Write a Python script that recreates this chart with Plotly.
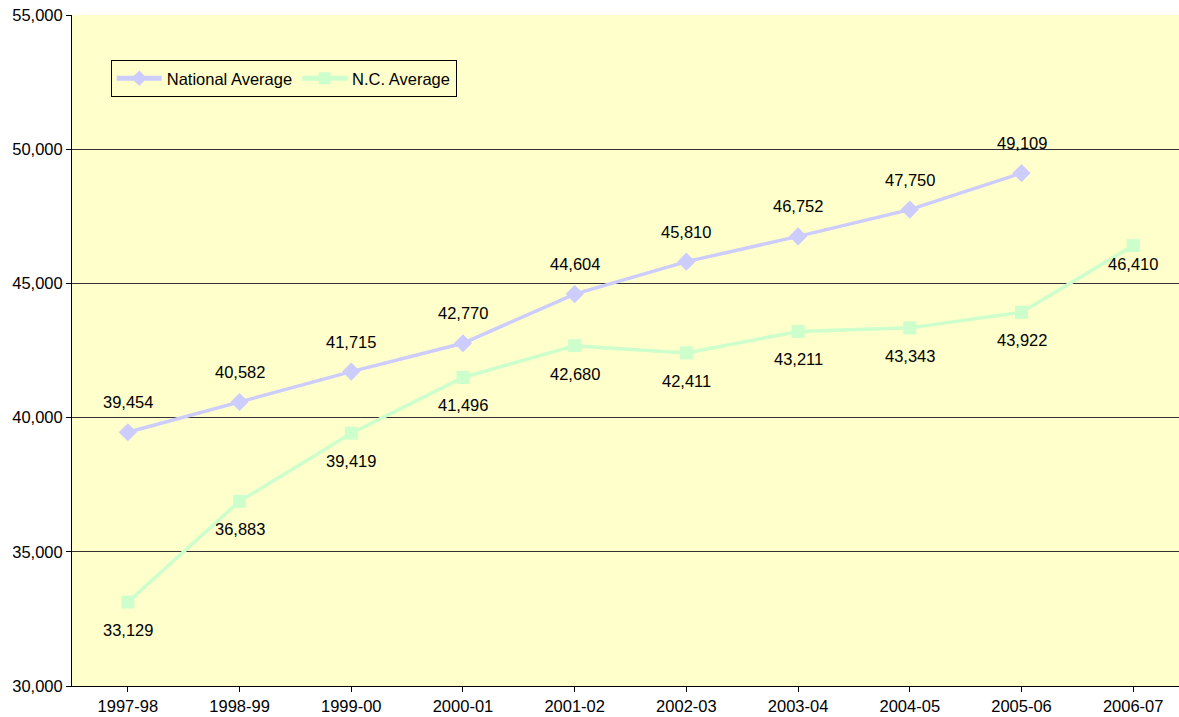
import plotly.graph_objects as go

years = ["1997-98", "1998-99", "1999-00", "2000-01", "2001-02", "2002-03",
         "2003-04", "2004-05", "2005-06", "2006-07"]
national = [39454, 40582, 41715, 42770, 44604, 45810, 46752, 47750, 49109, None]
nc = [33129, 36883, 39419, 41496, 42680, 42411, 43211, 43343, 43922, 46410]
y_ticks = [30000, 35000, 40000, 45000, 50000, 55000]

BG = "#FFFFCC"
FONT = "Liberation Sans, Arial, sans-serif"
FS = 16.5

fig = go.Figure()
fig.add_trace(go.Scatter(
    x=list(range(len(years))), y=national, name="National Average",
    mode="lines+markers",
    line=dict(color="#CCCCFF", width=3.5),
    marker=dict(symbol="diamond", size=14, color="#CCCCFF"),
))
fig.add_trace(go.Scatter(
    x=list(range(len(years))), y=nc, name="N.C. Average",
    mode="lines+markers",
    line=dict(color="#CCFFCC", width=3.5),
    marker=dict(symbol="square", size=13, color="#CCFFCC"),
))

annotations = []
for i, v in enumerate(national):
    if v is None:
        continue
    annotations.append(dict(x=i, y=v, text=f"{v:,}", showarrow=False,
                            yshift=30, font=dict(family=FONT, size=FS, color="black")))
for i, v in enumerate(nc):
    shift = -18 if i == len(nc) - 1 else -28
    annotations.append(dict(x=i, y=v, text=f"{v:,}", showarrow=False,
                            yshift=shift, font=dict(family=FONT, size=FS, color="black")))

fig.update_layout(
    width=1179, height=717,
    margin=dict(l=72, r=0, t=15, b=31),
    paper_bgcolor="white", plot_bgcolor=BG,
    font=dict(family=FONT, size=FS, color="black"),
    showlegend=True,
    legend=dict(orientation="h", x=0.035, y=0.933, xanchor="left", yanchor="top",
                bgcolor=BG, bordercolor="black", borderwidth=1,
                itemsizing="constant", itemwidth=45,
                font=dict(family=FONT, size=FS, color="black")),
    annotations=annotations,
)
fig.update_xaxes(
    range=[-0.5, 9.41], tickmode="array", tickvals=list(range(len(years))),
    ticktext=years, ticks="outside", tickson="boundaries", ticklen=5,
    tickcolor="black", showline=True, linecolor="black", linewidth=1,
    showgrid=False, zeroline=False, tickfont=dict(size=FS),
)
fig.update_yaxes(
    range=[30000, 55000], tickvals=y_ticks, tickformat=",",
    ticks="outside", ticklen=5, tickcolor="black",
    showline=True, linecolor="black", linewidth=1,
    showgrid=True, gridcolor="#333333", gridwidth=1, zeroline=False,
    tickfont=dict(size=FS),
)

fig.write_html("out.html", config={"displayModeBar": False},
               post_script="document.body.style.margin='0';document.body.style.overflow='hidden';")
